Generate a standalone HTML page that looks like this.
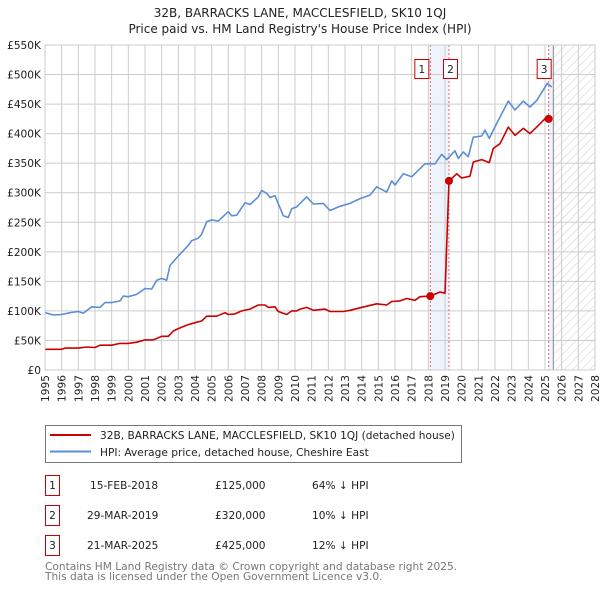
<!DOCTYPE html>
<html><head><meta charset="utf-8">
<style>
body{margin:0;background:#fff;}
svg text{font-family:"DejaVu Sans","Liberation Sans",sans-serif;}
</style></head>
<body>
<svg id="chart" width="600" height="590" viewBox="0 0 600 590" xmlns="http://www.w3.org/2000/svg">
<defs>
<pattern id="hatch" width="6" height="6" patternUnits="userSpaceOnUse" patternTransform="rotate(45)">
<line x1="0" y1="0" x2="0" y2="6" stroke="#ccc" stroke-width="1"/>
</pattern>
</defs>
<text x="300" y="17" text-anchor="middle" font-size="12" fill="#222">32B, BARRACKS LANE, MACCLESFIELD, SK10 1QJ</text>
<text x="300" y="33" text-anchor="middle" font-size="12" fill="#222">Price paid vs. HM Land Registry's House Price Index (HPI)</text>
<g id="plot"></g>
<g>
<rect x="45.5" y="425.5" width="416" height="37" fill="#fff" stroke="#777"/>
<line x1="50" y1="435" x2="91" y2="435" stroke="#cc0000" stroke-width="2"/>
<text x="100" y="439" font-size="10.6" fill="#222">32B, BARRACKS LANE, MACCLESFIELD, SK10 1QJ (detached house)</text>
<line x1="50" y1="451.5" x2="91" y2="451.5" stroke="#5b8fd4" stroke-width="2"/>
<text x="100" y="456" font-size="10.6" fill="#222">HPI: Average price, detached house, Cheshire East</text>
</g>
<g font-size="10.6" fill="#222">
<rect x="45.5" y="475.5" width="14" height="20" fill="none" stroke="#cc0000"/>
<text x="52.5" y="489" text-anchor="middle">1</text>
<text x="90" y="489">15-FEB-2018</text><text x="215" y="489">£125,000</text><text x="312" y="489">64% ↓ HPI</text>
<rect x="45.5" y="505.5" width="14" height="20" fill="none" stroke="#cc0000"/>
<text x="52.5" y="519" text-anchor="middle">2</text>
<text x="87" y="519">29-MAR-2019</text><text x="215" y="519">£320,000</text><text x="312" y="519">10% ↓ HPI</text>
<rect x="45.5" y="535.5" width="14" height="20" fill="none" stroke="#cc0000"/>
<text x="52.5" y="549" text-anchor="middle">3</text>
<text x="87" y="549">21-MAR-2025</text><text x="215" y="549">£425,000</text><text x="312" y="549">12% ↓ HPI</text>
</g>
<text x="45" y="570" font-size="10.6" fill="#777">Contains HM Land Registry data © Crown copyright and database right 2025.</text>
<text x="45" y="580" font-size="10.6" fill="#777">This data is licensed under the Open Government Licence v3.0.</text>
</svg>
<script>
const hpiYears=[1995,1995.5,1996,1996.5,1997,1997.3,1997.8,1998.3,1998.6,1999,1999.5,1999.7,2000,2000.5,2001,2001.4,2001.7,2002,2002.3,2002.5,2003,2003.5,2003.8,2004.2,2004.4,2004.7,2005,2005.4,2006,2006.2,2006.5,2007,2007.3,2007.8,2008,2008.3,2008.5,2008.8,2009.3,2009.6,2009.8,2010.1,2010.3,2010.7,2011.1,2011.7,2012.1,2012.7,2013.3,2013.9,2014.5,2014.9,2015.5,2015.8,2016,2016.5,2017,2017.4,2017.8,2018.4,2018.8,2019.1,2019.6,2019.8,2020.1,2020.4,2020.7,2021.2,2021.4,2021.66,2021.9,2022.3,2022.8,2023.2,2023.7,2024.1,2024.5,2025.14,2025.4];
const hpiValues=[97,93,94,97,99,96,107,106,114,114,117,125,124,128,138,137,152,155,152,177,193,208,219,223,230,251,254,252,268,261,262,283,280,293,304,299,292,295,261,258,273,276,282,293,281,282,270,277,282,290,296,310,301,320,313,332,327,338,349,349,365,356,371,358,369,361,394,396,406,392,406,428,455,440,455,445,456,485,479];
const priceYears=[1995,1996,1996.2,1997,1997.5,1998,1998.3,1999,1999.5,2000,2000.5,2001,2001.5,2002,2002.4,2002.7,2003,2003.5,2004,2004.4,2004.7,2005.3,2005.8,2006,2006.4,2006.8,2007.3,2007.8,2008.2,2008.4,2008.8,2009,2009.5,2009.8,2010.1,2010.3,2010.7,2011.1,2011.8,2012.1,2012.9,2013.3,2014.3,2014.9,2015.5,2015.8,2016.3,2016.7,2017.2,2017.5,2018.12,2018.7,2019.0,2019.24,2019.7,2020.0,2020.5,2020.7,2021.2,2021.66,2021.9,2022.3,2022.8,2023.2,2023.7,2024.1,2024.5,2025.1,2025.3];
const priceValues=[35,35,37,37,39,38,42,42,45,45,47,51,51,57,57,66,70,76,80,83,91,91,97,94,95,100,103,110,110,106,107,99,94,100,100,103,106,101,103,99,99,101,108,112,110,116,117,121,118,124,125,132,130,320,332,325,328,352,356,351,375,383,411,397,409,400,411,428,424];
const saleYears=[2018.12,2019.24,2025.22];
const saleValues=[125,320,425];
const saleLabels=["1","2","3"];
const yTicks=[0,50,100,150,200,250,300,350,400,450,500,550];
const yTickLabels=["£0","£50K","£100K","£150K","£200K","£250K","£300K","£350K","£400K","£450K","£500K","£550K"];
const xTicks=[1995,1996,1997,1998,1999,2000,2001,2002,2003,2004,2005,2006,2007,2008,2009,2010,2011,2012,2013,2014,2015,2016,2017,2018,2019,2020,2021,2022,2023,2024,2025,2026,2027,2028];

const X0=45,X1=595,Y0=370,Y1=45;
const xs=y=>X0+(y-1995)/(2028-1995)*(X1-X0);
const ys=v=>Y0-v/550*(Y0-Y1);
const NS="http://www.w3.org/2000/svg";
const g=document.getElementById('plot');
function mk(t,a){const e=document.createElementNS(NS,t);for(const k in a)e.setAttribute(k,a[k]);g.appendChild(e);return e;}

let s1=mk('rect',{x:xs(saleYears[0]),y:Y1,width:xs(saleYears[1])-xs(saleYears[0]),height:Y0-Y1,fill:'#eef3fc'});


let s2=mk('rect',{x:xs(saleYears[2]),y:Y1,width:xs(2025.5)-xs(saleYears[2]),height:Y0-Y1,fill:'#eef3fc'});


let ht=mk('rect',{x:xs(2025.5),y:Y1,width:X1-xs(2025.5),height:Y0-Y1,fill:'url(#hatch)'});



xTicks.forEach(t=>{
  let l=mk('line',{x1:xs(t),x2:xs(t),y1:Y1,y2:Y0,stroke:'#cccccc','stroke-width':1});
  
  
  let tx=mk('text',{x:0,y:0,'font-size':10.6,fill:'#222','text-anchor':'end',transform:`translate(${xs(t)+4},${Y0+5}) rotate(-90)`});
  tx.textContent=t;
  
  
});
yTicks.forEach((t,i)=>{
  let l=mk('line',{x1:X0,x2:X1,y1:ys(t),y2:ys(t),stroke:'#cccccc','stroke-width':1});
  
  
  let tx=mk('text',{x:41,y:ys(t)+4,'font-size':10.6,fill:'#222','text-anchor':'end'});
  tx.textContent=yTickLabels[i];
  
  
});
let ln=mk('line',{x1:xs(2025.5),x2:xs(2025.5),y1:Y1,y2:Y0,stroke:'#888','stroke-width':1});



saleYears.forEach(y=>{
  let l=mk('line',{x1:xs(y),x2:xs(y),y1:Y1,y2:Y0,stroke:'#e06666','stroke-width':1,'stroke-dasharray':'2,2'});
  
  
});

function path(xsArr,vs,color,name){
  let d=xsArr.map((y,i)=>(i?'L':'M')+xs(y).toFixed(1)+','+ys(vs[i]).toFixed(1)).join('');
  let p=mk('path',{d,fill:'none',stroke:color,'stroke-width':1.6,'stroke-linejoin':'round'});
  
  
}
path(hpiYears,hpiValues,'#5b8fd4','hpi-line');
path(priceYears,priceValues,'#cc0000','price-paid-line');

saleYears.forEach((y,i)=>{
  let c=mk('circle',{cx:xs(y),cy:ys(saleValues[i]),r:4,fill:'#cc0000'});
  
  
  let bx=xs(y)-(i==0?9:i==1?-1:5)-7;
  let r=mk('rect',{x:bx+0.5,y:59.5,width:14,height:19,fill:'#fff',stroke:'#cc0000'});
  
  
  let t=mk('text',{x:bx+7.5,y:73,'font-size':10.6,fill:'#222','text-anchor':'middle'});
  t.textContent=saleLabels[i];
  
  
});
let fr=mk('rect',{x:X0,y:Y1,width:X1-X0,height:Y0-Y1,fill:'none',stroke:'#ccc'});


</script>
</body></html>
